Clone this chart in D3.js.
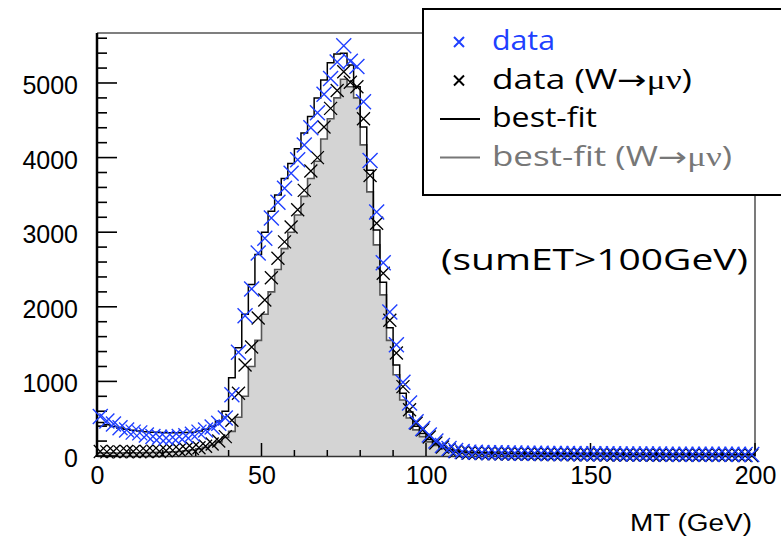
<!DOCTYPE html>
<html>
<head>
<meta charset="utf-8">
<script src="https://cdn.jsdelivr.net/npm/d3@7/dist/d3.min.js"></script>
<style>
  body { margin: 0; background: #fff; }
  svg { display: block; }
</style>
</head>
<body>
<svg id="chart" width="781" height="537"></svg>
<script>
// MT histogram, 100 bins of 2 GeV from 0 to 200
const binWidth = 2;

// blue crosses: all data
const dataAll = [
  530, 470, 430, 380, 350, 320, 310, 280, 260, 250,
  240, 250, 260, 270, 290, 320, 350, 390, 440, 510,
  820, 1390, 1880, 2240, 2720, 2920, 3190, 3400, 3590, 3790,
  3970, 4170, 4400, 4600, 4850, 5060, 5280, 5500, 5290, 5220,
  4750, 3960, 3270, 2590, 1930, 1490, 990, 710, 460, 370,
  280, 200, 140, 100, 75, 60,
  52, 50, 47, 45, 43, 42, 40, 39, 38, 37,
  36, 36, 35, 34, 33, 33, 32, 31, 31, 30,
  30, 29, 29, 28, 28, 27, 27, 27, 26, 26,
  25, 25, 25, 24, 24, 24, 23, 23, 23, 22,
  22, 22, 21, 21
];

// black crosses: data (W -> mu nu)
const dataW = [
  60, 55, 60, 55, 60, 60, 55, 60, 65, 60,
  70, 75, 80, 90, 100, 110, 130, 160, 200, 260,
  480, 840, 1220, 1460, 1850, 2090, 2390, 2650, 2870, 3070,
  3300, 3560, 3820, 4000, 4410, 4660, 4900, 5150, 5010, 4950,
  4520, 3760, 3120, 2450, 1820, 1380, 930, 620, 440, 350,
  255, 175, 120, 85, 60, 45,
  40, 37, 34, 32, 30, 28, 27, 25, 24, 23,
  22, 21, 20, 19, 18, 18, 17, 16, 16, 15,
  15, 14, 14, 13, 13, 12, 12, 12, 11, 11,
  11, 10, 10, 10, 9, 9, 9, 9, 8, 8,
  8, 8, 7, 7
];

// black step line: best-fit
const fitAll = [
  450, 420, 395, 375, 360, 345, 335, 325, 320, 315,
  310, 310, 310, 315, 320, 335, 360, 400, 470, 600,
  1050, 1450, 1900, 2300, 2700, 3000, 3280, 3500, 3720, 3920,
  4120, 4330, 4550, 4800, 5040, 5270, 5390, 5400, 5240, 4950,
  4410, 3830, 3030, 2330, 1720, 1220, 840, 590, 400, 300,
  220, 160, 115, 85, 65, 55,
  50, 47, 44, 42, 40, 38, 37, 36, 35, 34,
  33, 32, 31, 31, 30, 29, 29, 28, 28, 27,
  27, 26, 26, 25, 25, 25, 24, 24, 23, 23,
  23, 22, 22, 22, 21, 21, 21, 20, 20, 20,
  20, 19, 19, 19
];

// grey filled histogram: best-fit (W -> mu nu)
const fitW = [
  40, 42, 40, 41, 42, 43, 44, 45, 47, 48,
  50, 55, 60, 70, 80, 95, 115, 145, 190, 250,
  330, 520, 800, 1200, 1550, 1900, 2200, 2500, 2780, 3000,
  3230, 3480, 3720, 3950, 4250, 4520, 4800, 5050, 4950, 4800,
  4170, 3540, 2830, 2160, 1550, 1090, 750, 510, 350, 260,
  190, 140, 100, 75, 58, 48,
  42, 39, 36, 33, 31, 29, 27, 26, 24, 23,
  22, 21, 20, 19, 18, 17, 17, 16, 15, 15,
  14, 14, 13, 13, 12, 12, 11, 11, 11, 10,
  10, 10, 9, 9, 9, 9, 8, 8, 8, 8,
  7, 7, 7, 7
];

const xTicks = [0, 50, 100, 150, 200];
const yTicks = [0, 1000, 2000, 3000, 4000, 5000];

const legendItems = [
  { label: "data", suffix: false, kind: "cross", color: "#2040ff", len: 63 },
  { label: "data", suffix: true, kind: "cross", color: "#000", len: 200 },
  { label: "best-fit", suffix: false, kind: "line", color: "#000", len: 105 },
  { label: "best-fit", suffix: true, kind: "line", color: "#777", len: 240 }
];

const svg = d3.select("#chart");

const x = d3.scaleLinear().domain([0, 200]).range([97, 755]);
const y = d3.scaleLinear().domain([0, 5670]).range([456, 33]);

// histogram helpers
function stepPoints(vals) {
  const pts = vals.map((v, i) => [i * binWidth, v]);
  pts.push([vals.length * binWidth, vals[vals.length - 1]]);
  return pts;
}

const area = d3.area()
  .curve(d3.curveStepAfter)
  .x(d => x(d[0]))
  .y0(y(0))
  .y1(d => y(d[1]));

const line = d3.line()
  .curve(d3.curveStepAfter)
  .x(d => x(d[0]))
  .y(d => y(d[1]));

// grey W fit
svg.append("path")
  .attr("d", area(stepPoints(fitW)))
  .attr("fill", "#d4d4d4")
  .attr("stroke", "none");

svg.append("path")
  .attr("d", line(stepPoints(fitW)))
  .attr("fill", "none")
  .attr("stroke", "#555")
  .attr("stroke-width", 1.6);

// total fit
svg.append("path")
  .attr("d", line(stepPoints(fitAll)))
  .attr("fill", "none")
  .attr("stroke", "#000")
  .attr("stroke-width", 1.5);

// frame
svg.append("line")
  .attr("x1", 97).attr("x2", 755).attr("y1", 33).attr("y2", 33)
  .attr("stroke", "#555").attr("stroke-width", 1.3);
svg.append("line")
  .attr("x1", 755).attr("x2", 755).attr("y1", 33).attr("y2", 456)
  .attr("stroke", "#333").attr("stroke-width", 1.3);

// x axis
const xAxis = d3.axisBottom(x)
  .tickValues(xTicks)
  .tickSize(0)
  .tickPadding(10)
  .tickFormat(d3.format("d"));

const gx = svg.append("g")
  .attr("transform", `translate(0,${y(0)})`)
  .call(xAxis);
gx.select(".domain").attr("stroke", "#333").attr("stroke-width", 1.5);
gx.selectAll("text")
  .attr("font-family", "Liberation Sans, Arial, sans-serif")
  .attr("font-size", 25)
  .attr("fill", "#000")
  .attr("dy", "0.71em");

// x ticks pointing up
svg.append("g")
  .selectAll("line")
  .data(d3.range(0, 201, 10))
  .join("line")
  .attr("x1", d => x(d)).attr("x2", d => x(d))
  .attr("y1", y(0))
  .attr("y2", d => y(0) - (d % 50 === 0 ? 13 : 6))
  .attr("stroke", "#000")
  .attr("stroke-width", 1.5);

// y axis
const yAxis = d3.axisLeft(y)
  .tickValues(yTicks)
  .tickSize(0)
  .tickPadding(19)
  .tickFormat(d3.format("d"));

const gy = svg.append("g")
  .attr("transform", `translate(${x(0)},0)`)
  .call(yAxis);
gy.select(".domain").remove();
gy.selectAll("text")
  .attr("font-family", "Liberation Sans, Arial, sans-serif")
  .attr("font-size", 25)
  .attr("fill", "#000")
  .attr("dy", "0.42em");

svg.append("line")
  .attr("x1", 97).attr("x2", 97).attr("y1", 33).attr("y2", 457)
  .attr("stroke", "#000").attr("stroke-width", 2.5);

// y ticks pointing right
svg.append("g")
  .selectAll("line")
  .data(d3.range(0, 5601, 200))
  .join("line")
  .attr("x1", 97)
  .attr("x2", d => 97 + (d % 1000 === 0 ? 20 : 10))
  .attr("y1", d => y(d)).attr("y2", d => y(d))
  .attr("stroke", "#000")
  .attr("stroke-width", 1.6);

// crosses
function crosses(vals, color, h, sw) {
  svg.append("g")
    .selectAll("path")
    .data(vals)
    .join("path")
    .attr("transform", (d, i) => `translate(${x(i * binWidth + binWidth / 2)},${y(d)})`)
    .attr("d", `M${-h},${-h}L${h},${h}M${-h},${h}L${h},${-h}`)
    .attr("stroke", color)
    .attr("stroke-width", sw)
    .attr("fill", "none");
}

crosses(dataW, "#000", 6.5, 1.3);
crosses(dataAll, "#2040ff", 7.5, 1.4);

// axis title
svg.append("text")
  .attr("x", 752).attr("y", 531)
  .attr("text-anchor", "end")
  .attr("font-family", "Liberation Sans, Arial, sans-serif")
  .attr("font-size", 23)
  .attr("textLength", 122)
  .attr("lengthAdjust", "spacingAndGlyphs")
  .text("MT (GeV)");

// cut label
svg.append("text")
  .attr("x", 441).attr("y", 270)
  .attr("font-family", "Open Sans, sans-serif")
  .attr("font-size", 29)
  .attr("textLength", 307)
  .attr("lengthAdjust", "spacingAndGlyphs")
  .text("(sumET>100GeV)");

// legend
const leg = svg.append("g");
leg.append("rect")
  .attr("x", 423).attr("y", 9)
  .attr("width", 380).attr("height", 186)
  .attr("fill", "#fff")
  .attr("stroke", "#000")
  .attr("stroke-width", 2);

legendItems.forEach((item, i) => {
  const cy = 42 + i * 38.5;
  if (item.kind === "cross") {
    const h = 5;
    leg.append("path")
      .attr("transform", `translate(459,${cy})`)
      .attr("d", `M${-h},${-h}L${h},${h}M${-h},${h}L${h},${-h}`)
      .attr("stroke", item.color)
      .attr("stroke-width", 2);
  } else {
    leg.append("line")
      .attr("x1", 440).attr("x2", 480)
      .attr("y1", cy).attr("y2", cy)
      .attr("stroke", item.color)
      .attr("stroke-width", 2);
  }
  const t = leg.append("text")
    .attr("x", 492).attr("y", cy + 8)
    .attr("font-family", "Open Sans, sans-serif")
    .attr("font-size", 27)
    .attr("fill", item.color)
    .attr("textLength", item.len)
    .attr("lengthAdjust", "spacingAndGlyphs");
  t.append("tspan").text(item.label + (item.suffix ? " (W" : ""));
  if (item.suffix) {
    t.append("tspan").attr("font-family", "DejaVu Sans").text("\u2192");
    t.append("tspan").attr("font-family", "Liberation Serif").text("\u03bc\u03bd");
    t.append("tspan").text(")");
  }
});
</script>
</body>
</html>
